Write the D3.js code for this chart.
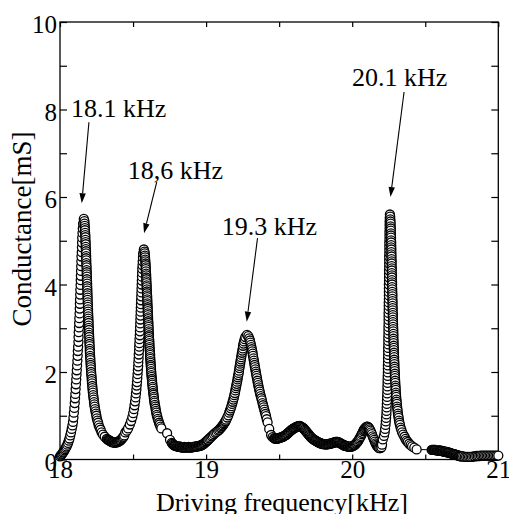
<!DOCTYPE html>
<html>
<head>
<meta charset="utf-8">
<script src="https://cdn.jsdelivr.net/npm/d3@7"></script>
<style>
  body { margin: 0; background: #fff; }
  text { font-family: "Liberation Serif", "Times New Roman", serif; fill: #000; }
</style>
</head>
<body>
<div id="chart"></div>
<script>
// Measured conductance sweep, [driving frequency kHz, conductance mS]
const sweepStart = [
  [18.000,0.07],[18.005,0.09],[18.010,0.11],[18.015,0.13],[18.020,0.16],[18.025,0.18],[18.030,0.21],
  [18.035,0.24],[18.040,0.27],[18.045,0.30],[18.050,0.34],[18.055,0.38],[18.060,0.43],[18.065,0.48],
  [18.070,0.55],[18.075,0.62],[18.080,0.70],[18.085,0.78]
];
const peak1Rise = [
  [18.089,0.86],[18.092,0.96],[18.095,1.07],[18.098,1.18],[18.101,1.29],[18.103,1.40],[18.105,1.50],
  [18.107,1.61],[18.109,1.72],[18.111,1.83],[18.113,1.94],[18.115,2.04],[18.117,2.15],[18.119,2.26],
  [18.121,2.37],[18.122,2.48],[18.124,2.58],[18.126,2.69],[18.127,2.80],[18.128,2.91],[18.130,3.02],
  [18.131,3.12],[18.132,3.23],[18.134,3.34],[18.135,3.45],[18.136,3.56],[18.137,3.66],[18.138,3.77],
  [18.139,3.88],[18.141,3.99],[18.142,4.10],[18.143,4.20],[18.144,4.31],[18.145,4.42],[18.146,4.53],
  [18.147,4.64],[18.149,4.74],[18.150,4.85],[18.151,4.96],[18.152,5.07],[18.154,5.18],[18.156,5.28],
  [18.158,5.39],[18.163,5.50]
];
const peak1Fall = [
  [18.167,5.45],[18.168,5.39],[18.169,5.34],[18.170,5.29],[18.171,5.24],[18.172,5.18],[18.173,5.13],
  [18.174,5.08],[18.174,5.02],[18.175,4.97],[18.176,4.92],[18.176,4.86],[18.177,4.81],[18.178,4.76],
  [18.178,4.71],[18.179,4.65],[18.179,4.60],[18.180,4.55],[18.180,4.49],[18.181,4.44],[18.182,4.39],
  [18.182,4.33],[18.183,4.28],[18.183,4.23],[18.184,4.18],[18.184,4.12],[18.185,4.07],[18.186,4.02],
  [18.186,3.96],[18.187,3.91],[18.187,3.86],[18.188,3.80],[18.188,3.75],[18.189,3.70],[18.189,3.65],
  [18.190,3.59],[18.191,3.54],[18.191,3.49],[18.192,3.43],[18.192,3.38],[18.193,3.33],[18.194,3.27],
  [18.194,3.22],[18.195,3.17],[18.196,3.12],[18.196,3.06],[18.197,3.01],[18.198,2.96],[18.198,2.90],
  [18.199,2.85],[18.200,2.80],[18.201,2.74],[18.201,2.69],[18.202,2.64],[18.203,2.59],[18.204,2.53],
  [18.204,2.48],[18.205,2.43],[18.206,2.37],[18.207,2.32],[18.208,2.27],[18.209,2.21],[18.210,2.16],
  [18.211,2.11],[18.212,2.06],[18.213,2.00],[18.214,1.95],[18.216,1.90],[18.217,1.84],[18.218,1.79],
  [18.219,1.74],[18.221,1.68],[18.222,1.63],[18.224,1.58],[18.225,1.53],[18.227,1.47],[18.229,1.42],
  [18.231,1.37],[18.233,1.31],[18.235,1.26],[18.237,1.21],[18.240,1.15],[18.243,1.10],[18.246,1.05],
  [18.249,1.00],[18.252,0.94],[18.256,0.89],[18.261,0.84],[18.265,0.78],[18.271,0.73],[18.278,0.68],
  [18.285,0.62],[18.294,0.57],[18.306,0.52],[18.320,0.47]
];
const trough1 = [
  [18.325,0.46],[18.330,0.45],[18.335,0.44],[18.340,0.43],[18.345,0.42],[18.350,0.41],[18.355,0.40],
  [18.360,0.40],[18.365,0.39],[18.370,0.39],[18.375,0.38],[18.380,0.39],[18.385,0.39],[18.390,0.40],
  [18.395,0.40],[18.400,0.41],[18.405,0.42],[18.410,0.43],[18.415,0.44],[18.420,0.46],[18.425,0.48],
  [18.430,0.50],[18.435,0.52],[18.440,0.55]
];
const peak2Rise = [
  [18.447,0.62],[18.457,0.66],[18.466,0.71],[18.478,0.80],[18.487,0.88],[18.495,0.97],[18.501,1.06],
  [18.506,1.15],[18.510,1.24],[18.514,1.33],[18.517,1.42],[18.520,1.51],[18.523,1.60],[18.525,1.69],
  [18.527,1.77],[18.529,1.86],[18.531,1.95],[18.533,2.04],[18.535,2.13],[18.536,2.22],[18.538,2.31],
  [18.539,2.40],[18.541,2.49],[18.542,2.58],[18.543,2.66],[18.544,2.75],[18.546,2.84],[18.547,2.93],
  [18.548,3.02],[18.549,3.11],[18.550,3.20],[18.551,3.29],[18.552,3.38],[18.553,3.47],[18.554,3.55],
  [18.555,3.64],[18.556,3.73],[18.557,3.82],[18.558,3.91],[18.559,4.00],[18.560,4.09],[18.561,4.18],
  [18.562,4.27],[18.563,4.36],[18.565,4.44],[18.566,4.53],[18.568,4.62],[18.569,4.71],[18.574,4.80]
];
const peak2Fall = [
  [18.578,4.75],[18.580,4.71],[18.581,4.66],[18.582,4.62],[18.583,4.57],[18.584,4.53],[18.585,4.48],
  [18.586,4.44],[18.587,4.39],[18.587,4.35],[18.588,4.30],[18.589,4.25],[18.590,4.21],[18.590,4.16],
  [18.591,4.12],[18.591,4.07],[18.592,4.03],[18.593,3.98],[18.593,3.94],[18.594,3.89],[18.595,3.84],
  [18.595,3.80],[18.596,3.75],[18.597,3.71],[18.597,3.66],[18.598,3.62],[18.598,3.57],[18.599,3.53],
  [18.600,3.48],[18.600,3.44],[18.601,3.39],[18.601,3.34],[18.602,3.30],[18.603,3.25],[18.603,3.21],
  [18.604,3.16],[18.605,3.12],[18.605,3.07],[18.606,3.03],[18.607,2.98],[18.607,2.93],[18.608,2.89],
  [18.609,2.84],[18.609,2.80],[18.610,2.75],[18.611,2.71],[18.612,2.66],[18.612,2.62],[18.613,2.57],
  [18.614,2.53],[18.615,2.48],[18.616,2.43],[18.617,2.39],[18.617,2.34],[18.618,2.30],[18.619,2.25],
  [18.620,2.21],[18.621,2.16],[18.622,2.12],[18.623,2.07],[18.624,2.02],[18.625,1.98],[18.626,1.93],
  [18.627,1.89],[18.629,1.84],[18.630,1.80],[18.631,1.75],[18.632,1.71],[18.634,1.66],[18.635,1.62],
  [18.637,1.57],[18.638,1.52],[18.640,1.48],[18.642,1.43],[18.643,1.39],[18.645,1.34],[18.647,1.30],
  [18.649,1.25],[18.652,1.21],[18.654,1.16],[18.657,1.11],[18.659,1.07],[18.662,1.02],[18.666,0.98],
  [18.669,0.93],[18.673,0.89],[18.678,0.84],[18.682,0.80],[18.688,0.75],[18.694,0.71],[18.733,0.60],
  [18.753,0.45]
];
const trough2 = [
  [18.765,0.38],[18.770,0.36],[18.775,0.34],[18.780,0.33],[18.785,0.32],[18.790,0.31],[18.795,0.31],
  [18.800,0.30],[18.805,0.30],[18.810,0.29],[18.815,0.29],[18.820,0.30],[18.825,0.29],[18.830,0.28],
  [18.835,0.28],[18.840,0.27],[18.845,0.28],[18.850,0.29],[18.855,0.28],[18.860,0.27],[18.865,0.28],
  [18.870,0.28],[18.875,0.28],[18.880,0.29],[18.885,0.28],[18.890,0.27],[18.895,0.28],[18.900,0.28],
  [18.905,0.28],[18.910,0.29],[18.915,0.29],[18.920,0.29],[18.925,0.29],[18.930,0.30],[18.935,0.30],
  [18.940,0.30],[18.945,0.30],[18.950,0.31],[18.955,0.31],[18.960,0.32],[18.965,0.32],[18.970,0.33],
  [18.975,0.34],[18.980,0.35],[18.985,0.36],[18.990,0.38],[18.995,0.39],[19.000,0.41],[19.005,0.42],
  [19.010,0.44],[19.015,0.45],[19.022,0.48],[19.030,0.50],[19.037,0.53],[19.045,0.55]
];
const peak3Rise = [
  [19.054,0.58],[19.063,0.61],[19.072,0.63],[19.082,0.66],[19.090,0.68],[19.097,0.71],[19.103,0.73],
  [19.109,0.76],[19.115,0.78],[19.120,0.81],[19.125,0.83],[19.129,0.86],[19.134,0.88],[19.138,0.91],
  [19.145,0.96],[19.152,1.01],[19.158,1.07],[19.163,1.12],[19.169,1.17],
  [19.173,1.22],[19.178,1.27],[19.182,1.32],[19.186,1.37],[19.190,1.42],[19.193,1.47],[19.197,1.52],
  [19.200,1.58],[19.203,1.63],[19.206,1.68],[19.209,1.73],[19.212,1.78],[19.215,1.83],[19.217,1.88],
  [19.220,1.93],[19.223,1.98],[19.225,2.03],[19.228,2.09],[19.230,2.14],[19.233,2.19],[19.235,2.24],
  [19.238,2.29],[19.240,2.34],[19.243,2.39],[19.245,2.44],[19.248,2.49],[19.251,2.54],[19.253,2.60],
  [19.256,2.65],[19.260,2.70],[19.264,2.75],[19.269,2.80],[19.280,2.85]
];
const peak3Fall = [
  [19.289,2.82],[19.295,2.77],[19.300,2.72],[19.303,2.67],[19.307,2.62],[19.310,2.57],[19.313,2.52],
  [19.316,2.47],[19.319,2.42],[19.321,2.37],[19.324,2.31],[19.327,2.26],[19.329,2.21],[19.332,2.16],
  [19.334,2.11],[19.337,2.06],[19.340,2.01],[19.342,1.96],[19.345,1.91],[19.348,1.86],[19.351,1.80],
  [19.354,1.75],[19.357,1.70],[19.360,1.65],[19.363,1.60],[19.367,1.55],[19.370,1.50],[19.374,1.45],
  [19.378,1.40],[19.382,1.35],[19.386,1.29],[19.390,1.24],[19.394,1.19],[19.398,1.14],[19.402,1.09],
  [19.406,1.04],[19.410,0.99],[19.415,0.92],[19.421,0.85],[19.432,0.70],[19.445,0.56],[19.455,0.51]
];
const midBand = [
  [19.465,0.49],[19.470,0.48],[19.475,0.48],[19.480,0.47],[19.485,0.48],[19.490,0.48],[19.495,0.49],
  [19.500,0.49],[19.505,0.50],[19.510,0.50],[19.515,0.51],[19.520,0.51],[19.525,0.52],[19.530,0.53],
  [19.535,0.54],[19.540,0.55],[19.545,0.56],[19.550,0.57],[19.555,0.59],[19.560,0.60],[19.565,0.62],
  [19.570,0.63],[19.575,0.65],[19.580,0.66],[19.585,0.68],[19.590,0.69],[19.595,0.70],[19.600,0.71],
  [19.605,0.72],[19.610,0.73],[19.615,0.74],[19.620,0.75],[19.625,0.75],[19.630,0.76],[19.635,0.76],
  [19.640,0.77],[19.645,0.76],[19.650,0.75],[19.655,0.74],[19.660,0.73],[19.665,0.72],[19.670,0.70],
  [19.675,0.68],[19.680,0.66],[19.685,0.64],[19.690,0.62],[19.695,0.60],[19.700,0.58],[19.705,0.56],
  [19.710,0.54],[19.715,0.52],[19.720,0.50],[19.725,0.49],[19.730,0.47],[19.735,0.46],[19.740,0.45],
  [19.745,0.44],[19.750,0.43],[19.755,0.42],[19.760,0.41],[19.765,0.40],[19.770,0.39],[19.775,0.38],
  [19.780,0.38],[19.785,0.37],[19.790,0.36],[19.795,0.36],[19.800,0.35],[19.805,0.35],[19.810,0.35],
  [19.815,0.35],[19.820,0.34],[19.825,0.35],[19.830,0.35],[19.835,0.35],[19.840,0.35],[19.845,0.36],
  [19.850,0.36],[19.855,0.37],[19.860,0.37],[19.865,0.38],[19.870,0.38],[19.875,0.39],[19.880,0.39],
  [19.885,0.40],[19.890,0.40],[19.895,0.40],[19.900,0.40],[19.905,0.39],[19.910,0.39],[19.915,0.38],
  [19.920,0.37],[19.925,0.36],[19.930,0.35],[19.935,0.34],[19.940,0.33],[19.945,0.32],[19.950,0.32],
  [19.955,0.31],[19.960,0.31],[19.965,0.30],[19.970,0.30],[19.975,0.29],[19.980,0.29],[19.985,0.29],
  [19.990,0.29],[19.995,0.30],[20.000,0.30],[20.005,0.31],[20.010,0.32],[20.015,0.33],[20.020,0.34],
  [20.025,0.36],[20.030,0.38],[20.035,0.40],[20.040,0.42],[20.045,0.45],[20.050,0.48],[20.055,0.51],
  [20.060,0.54],[20.065,0.58],[20.070,0.61],[20.075,0.65],[20.080,0.68],[20.085,0.70],[20.090,0.72],
  [20.095,0.74],[20.100,0.75],[20.105,0.75],[20.110,0.74],[20.115,0.72],[20.120,0.69],[20.125,0.66],
  [20.130,0.62],[20.135,0.58],[20.140,0.53],[20.145,0.49],[20.150,0.45],[20.155,0.41],[20.160,0.37],
  [20.165,0.34],[20.170,0.31],[20.175,0.29],[20.180,0.27],[20.185,0.26],[20.193,0.26],[20.200,0.28],
  [20.204,0.34]
];
const peak4Rise = [
  [20.209,0.46],[20.217,0.54],[20.222,0.62],[20.225,0.70],[20.228,0.79],[20.230,0.87],[20.232,0.95],
  [20.234,1.03],[20.235,1.11],[20.236,1.19],[20.237,1.27],[20.238,1.35],[20.239,1.43],[20.240,1.51],
  [20.241,1.59],[20.241,1.67],[20.242,1.75],[20.242,1.83],[20.243,1.91],[20.244,1.99],[20.244,2.07],
  [20.244,2.15],[20.245,2.23],[20.245,2.31],[20.246,2.39],[20.246,2.47],[20.246,2.55],[20.247,2.63],
  [20.247,2.71],[20.247,2.79],[20.248,2.87],[20.248,2.95],[20.248,3.03],[20.249,3.11],[20.249,3.19],
  [20.249,3.27],[20.249,3.35],[20.250,3.43],[20.250,3.51],[20.250,3.59],[20.251,3.67],[20.251,3.75],
  [20.251,3.83],[20.251,3.91],[20.251,4.00],[20.252,4.08],[20.252,4.16],[20.252,4.24],[20.252,4.32],
  [20.253,4.40],[20.253,4.48],[20.253,4.56],[20.253,4.64],[20.254,4.72],[20.254,4.80],[20.254,4.88],
  [20.254,4.96],[20.255,5.04],[20.255,5.12],[20.255,5.20],[20.256,5.28],[20.256,5.36],[20.256,5.44],
  [20.257,5.52],[20.258,5.60]
];
const peak4Fall = [
  [20.260,5.55],[20.261,5.49],[20.262,5.44],[20.263,5.39],[20.263,5.33],[20.264,5.28],[20.264,5.23],
  [20.265,5.17],[20.265,5.12],[20.266,5.07],[20.266,5.01],[20.267,4.96],[20.267,4.90],[20.267,4.85],
  [20.268,4.80],[20.268,4.74],[20.268,4.69],[20.269,4.64],[20.269,4.58],[20.270,4.53],[20.270,4.48],
  [20.270,4.42],[20.271,4.37],[20.271,4.32],[20.271,4.26],[20.272,4.21],[20.272,4.16],[20.272,4.10],
  [20.273,4.05],[20.273,4.00],[20.273,3.94],[20.274,3.89],[20.274,3.83],[20.275,3.78],[20.275,3.73],
  [20.275,3.67],[20.276,3.62],[20.276,3.57],[20.276,3.51],[20.277,3.46],[20.277,3.41],[20.278,3.35],
  [20.278,3.30],[20.278,3.25],[20.279,3.19],[20.279,3.14],[20.280,3.09],[20.280,3.03],[20.281,2.98],
  [20.281,2.93],[20.282,2.87],[20.282,2.82],[20.282,2.76],[20.283,2.71],[20.283,2.66],[20.284,2.60],
  [20.285,2.55],[20.285,2.50],[20.286,2.44],[20.286,2.39],[20.287,2.34],[20.287,2.28],[20.288,2.23],
  [20.289,2.18],[20.289,2.12],[20.290,2.07],[20.291,2.02],[20.292,1.96],[20.292,1.91],[20.293,1.86],
  [20.294,1.80],[20.295,1.75],[20.296,1.69],[20.297,1.64],[20.298,1.59],[20.299,1.53],[20.300,1.48],
  [20.301,1.43],[20.303,1.37],[20.304,1.32],[20.306,1.27],[20.307,1.21],[20.309,1.16],[20.311,1.11],
  [20.313,1.05],[20.315,1.00],[20.318,0.95],[20.320,0.89],[20.323,0.84],[20.327,0.79],[20.331,0.73],
  [20.336,0.68],[20.342,0.62],[20.349,0.57],[20.358,0.52],[20.365,0.47],[20.372,0.43],[20.380,0.40],
  [20.390,0.36],[20.400,0.33],[20.410,0.30],[20.425,0.27],[20.441,0.23]
];
const sweepEnd = [
  [20.544,0.22],[20.550,0.22],[20.555,0.22],[20.560,0.22],[20.565,0.22],[20.570,0.22],[20.575,0.21],
  [20.580,0.21],[20.585,0.21],[20.590,0.21],[20.595,0.20],[20.600,0.20],[20.605,0.20],[20.610,0.20],
  [20.615,0.19],[20.620,0.19],[20.625,0.18],[20.630,0.18],[20.635,0.18],[20.640,0.18],[20.645,0.17],
  [20.650,0.17],[20.655,0.16],[20.660,0.16],[20.665,0.15],[20.670,0.15],[20.675,0.14],[20.680,0.14],
  [20.685,0.13],[20.690,0.13],[20.695,0.12],[20.700,0.12],[20.705,0.11],[20.710,0.11],[20.715,0.10],
  [20.720,0.10],[20.725,0.09],[20.730,0.09],[20.735,0.08],[20.740,0.08],[20.745,0.07],[20.750,0.07],
  [20.760,0.07],[20.770,0.06],[20.780,0.06],[20.790,0.06],[20.800,0.06],[20.810,0.06],[20.820,0.06],
  [20.830,0.07],[20.840,0.07],[20.850,0.08],[20.860,0.08],[20.870,0.08],[20.880,0.09],[20.890,0.09],
  [20.900,0.09],[20.910,0.09],[20.920,0.09],[20.930,0.09],[20.940,0.09],[20.950,0.09],[20.960,0.09],
  [20.970,0.09],[20.980,0.09],[20.990,0.09],[21.000,0.09]
];

const xTicks = [18, 18.5, 19, 19.5, 20, 20.5, 21];
const yTicks = [0, 1, 2, 3, 4, 5, 6, 7, 8, 9, 10];

// peak call-outs: label, label anchor, arrow start, arrow tip (data units)
const calloutLabels = ['18.1 kHz', '18,6 kHz', '19.3 kHz', '20.1 kHz'];
const calloutText = [[18.075, 7.84], [18.463, 6.41], [19.107, 5.13], [19.999, 8.54]];
const calloutFrom = [[18.198, 7.71], [18.662, 6.34], [19.352, 5.06], [20.355, 8.40]];
const calloutTip  = [[18.149, 5.86], [18.575, 5.17], [19.278, 3.15], [20.262, 6.00]];

const sweep = [].concat(sweepStart, peak1Rise, peak1Fall, trough1, peak2Rise, peak2Fall,
  trough2, peak3Rise, peak3Fall, midBand, peak4Rise, peak4Fall, sweepEnd);

const W = 509, H = 514;
const x = d3.scaleLinear().domain([18, 21]).range([60, 498.3]);
const y = d3.scaleLinear().domain([0, 10]).range([459.5, 22]);

const svg = d3.select('#chart').append('svg')
  .attr('width', W).attr('height', H)
  .attr('viewBox', `0 0 ${W} ${H}`);

svg.append('rect').attr('width', W).attr('height', H).attr('fill', '#fff');

// ── Axes (ticks point inward on all four sides) ───────────────────────────
const styleAxis = g => {
  g.select('.domain').remove();
  g.selectAll('.tick line').attr('stroke', '#000').attr('stroke-width', 1.2);
  g.selectAll('text').attr('font-size', '25px').attr('fill', '#000')
    .attr('font-family', '"Liberation Serif","Times New Roman",serif');
};

svg.append('g').attr('transform', `translate(0,${y(0)})`)
  .call(d3.axisBottom(x).tickValues(xTicks).tickSizeInner(-5).tickSizeOuter(0).tickPadding(1)
    .tickFormat(d => Number.isInteger(d) ? d : ''))
  .call(styleAxis);

svg.append('g').attr('transform', `translate(0,${y(10)})`)
  .call(d3.axisTop(x).tickValues(xTicks).tickSizeInner(-5).tickSizeOuter(0).tickFormat(''))
  .call(styleAxis);

svg.append('g').attr('transform', `translate(${x(18)},0)`)
  .call(d3.axisLeft(y).tickValues(yTicks).tickSizeInner(-7).tickSizeOuter(0).tickPadding(3)
    .tickFormat(d => d % 2 === 0 ? d : ''))
  .call(styleAxis)
  .call(g => g.selectAll('text').attr('dy', '0.42em'));

svg.append('g').attr('transform', `translate(${x(21)},0)`)
  .call(d3.axisRight(y).tickValues(yTicks).tickSizeInner(-7).tickSizeOuter(0).tickFormat(''))
  .call(styleAxis);

svg.append('rect')
  .attr('x', x(18)).attr('y', y(10))
  .attr('width', x(21) - x(18)).attr('height', y(0) - y(10))
  .attr('fill', 'none').attr('stroke', '#000').attr('stroke-width', 1.3);

// ── Axis titles ───────────────────────────────────────────────────────────
svg.append('text')
  .attr('x', 282).attr('y', 510.5)
  .attr('text-anchor', 'middle')
  .attr('font-size', '26px')
  .text('Driving frequency[kHz]');

svg.append('text')
  .attr('transform', 'translate(31,229) rotate(-90)')
  .attr('text-anchor', 'middle')
  .attr('font-size', '27px')
  .text('Conductance[mS]');

// ── Data: thin connecting line + open circle markers ──────────────────────
const line = d3.line().x(d => x(d[0])).y(d => y(d[1]));

svg.append('path')
  .datum(sweep)
  .attr('d', line)
  .attr('fill', 'none')
  .attr('stroke', '#000')
  .attr('stroke-width', 1);

svg.append('g').selectAll('circle')
  .data(sweep).enter()
  .append('circle')
  .attr('cx', d => x(d[0]))
  .attr('cy', d => y(d[1]))
  .attr('r', 4.5)
  .attr('fill', '#fff')
  .attr('stroke', '#000')
  .attr('stroke-width', 1.3);

// ── Peak call-outs ────────────────────────────────────────────────────────
calloutLabels.forEach((label, i) => {
  svg.append('text')
    .attr('x', x(calloutText[i][0])).attr('y', y(calloutText[i][1]))
    .attr('font-size', '26px')
    .text(label);

  const x1 = x(calloutFrom[i][0]), y1 = y(calloutFrom[i][1]);
  const x2 = x(calloutTip[i][0]),  y2 = y(calloutTip[i][1]);
  const len = Math.hypot(x2 - x1, y2 - y1);
  const ux = (x2 - x1) / len, uy = (y2 - y1) / len;
  const headL = 10, headW = 3.2;
  const bx = x2 - ux * headL, by = y2 - uy * headL;

  svg.append('line')
    .attr('x1', x1).attr('y1', y1).attr('x2', bx).attr('y2', by)
    .attr('stroke', '#000').attr('stroke-width', 1.1);

  svg.append('polygon')
    .attr('points', [
      [x2, y2],
      [bx - uy * headW, by + ux * headW],
      [bx + uy * headW, by - ux * headW]
    ].map(p => p.join(',')).join(' '))
    .attr('fill', '#000');
});
</script>
</body>
</html>
